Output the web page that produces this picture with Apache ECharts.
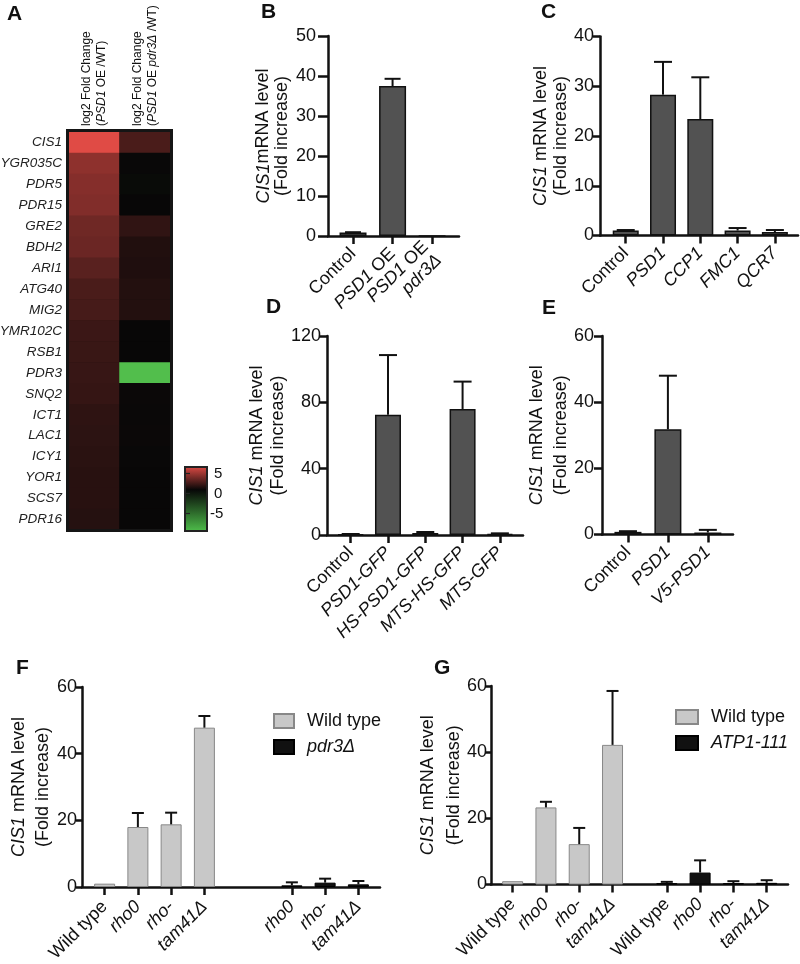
<!DOCTYPE html>
<html><head><meta charset="utf-8">
<script src="https://cdn.jsdelivr.net/npm/echarts@6/dist/echarts.min.js"></script>
<style>html,body{margin:0;padding:0;background:#fff}#c{width:800px;height:964px}</style>
</head><body><div id="c"></div>
<script>
// ---------------- data ----------------
const heatGenes = ['CIS1','YGR035C','PDR5','PDR15','GRE2','BDH2','ARI1','ATG40','MIG2','YMR102C','RSB1','PDR3','SNQ2','ICT1','LAC1','ICY1','YOR1','SCS7','PDR16'];
const heatCols = ['log2 Fold Change\n(PSD1 OE /WT)', 'log2 Fold Change\n(PSD1 OE pdr3Δ /WT)'];
const heatPsd1OE = [5.2, 3.1, 2.9, 2.8, 2.4, 2.3, 1.9, 1.55, 1.45, 1.2, 1.15, 1.1, 1.05, 0.9, 0.85, 0.8, 0.75, 0.75, 0.7];
const heatPsd1OEpdr3 = [1.55, 0.05, -0.1, 0.02, 0.95, 0.6, 0.55, 0.65, 0.65, 0.02, 0.02, -5.5, 0.1, 0.08, 0.1, 0.05, 0.03, 0.03, 0.02];
const colorbarTicks = [5, 0, -5];

const bLabels = ['Control', 'PSD1 OE', 'PSD1 OE\npdr3Δ'];
const bMean = [0.85, 37.5, 0.05];
const bErr = [0.1, 1.8, 0];

const cLabels = ['Control', 'PSD1', 'CCP1', 'FMC1', 'QCR7'];
const cMean = [1.0, 28.3, 23.4, 1.0, 0.7];
const cErr = [0.1, 6.6, 8.4, 0.5, 0.4];

const dLabels = ['Control', 'PSD1-GFP', 'HS-PSD1-GFP', 'MTS-HS-GFP', 'MTS-GFP'];
const dMean = [0.4, 72.5, 1.2, 76, 0.5];
const dErr = [0.2, 36, 0.6, 16.5, 0.5];

const eLabels = ['Control', 'PSD1', 'V5-PSD1'];
const eMean = [0.8, 31.8, 0.6];
const eErr = [0.2, 16.2, 0.8];

const fgLabels = ['Wild type', 'rho0', 'rho-', 'tam41Δ'];
const fWtMean = [1.0, 18.0, 18.8, 47.8];
const fWtErr = [0, 4.2, 3.5, 3.5];
const fPdr3Mean = [null, 0.5, 1.3, 0.8];
const fPdr3Err = [null, 0.9, 1.2, 1.0];

const gWtMean = [1.0, 23.3, 12.2, 42.2];
const gWtErr = [0, 1.7, 4.9, 16.3];
const gAtpMean = [0.4, 3.6, 0.4, 0.5];
const gAtpErr = [0.4, 3.7, 0.6, 0.8];

// ---------------- helpers ----------------
const FONT = '"Liberation Sans", Arial, Helvetica, sans-serif';
const INK = '#111';
const italicWords = new Set(['PSD1','pdr3Δ','CCP1','FMC1','QCR7','PSD1-GFP','HS-PSD1-GFP','MTS-HS-GFP','MTS-GFP','V5-PSD1','rho0','rho-','tam41Δ','ATP1-111','CIS1']);
function richLabel(text) {
  return text.split('\n').map(line => line.split(' ').map((w, k) => {
    const pre = k ? '{n| }' : '';
    let open = '', close = '';
    if (w.startsWith('(')) { open = '{n|(}'; w = w.slice(1); }
    if (w.endsWith(')')) { close = '{n|)}'; w = w.slice(0, -1); }
    if (!w) return pre + open + close;
    return pre + open + '{' + (italicWords.has(w) ? 'i' : 'n') + '|' + w + '}' + close;
  }).join('')).join('\n');
}
function richStyles(size, lh) {
  return {
    n: { fontSize: size, fontFamily: FONT, color: INK, lineHeight: lh },
    i: { fontSize: size, fontFamily: FONT, color: INK, lineHeight: lh, fontStyle: 'italic' }
  };
}

const grids = [], xAxes = [], yAxes = [], series = [];

// ---------------- panel A: heatmap ----------------
grids.push({ left: 69, top: 132, width: 101, height: 398, outerBoundsMode: 'none', containLabel: false,
  show: true, backgroundColor: '#070707', borderWidth: 0 });
xAxes.push({
  type: 'category', gridIndex: 0, position: 'top', data: heatCols,
  axisLine: { show: false }, axisTick: { show: false }, splitLine: { show: false }, splitArea: { show: false },
  axisLabel: { interval: 0, rotate: -90, margin: 6, formatter: v => richLabel(v), rich: richStyles(12, 15) }
});
yAxes.push({
  type: 'category', gridIndex: 0, data: heatGenes, inverse: true,
  axisLine: { show: false }, axisTick: { show: false }, splitLine: { show: false }, splitArea: { show: false },
  axisLabel: { interval: 0, margin: 7, fontSize: 13.5, fontStyle: 'italic', fontFamily: FONT, color: '#222' }
});
const heatData = [];
heatGenes.forEach((g, i) => {
  heatData.push([0, i, heatPsd1OE[i]]);
  heatData.push([1, i, heatPsd1OEpdr3[i]]);
});
series.push({ type: 'heatmap', xAxisIndex: 0, yAxisIndex: 0, data: heatData, emphasis: { disabled: true }, itemStyle: { borderWidth: 0 } });

// ---------------- bar panels ----------------
function addBarPanel(p) {
  const ai = xAxes.length;
  grids.push(Object.assign({ outerBoundsMode: 'none', containLabel: false }, p.grid));
  const ticks = [], labelMap = {}, errData = [];
  const nFirst = p.groups[0].mean.length;
  p.groups.forEach((grp, g) => {
    const data = [];
    grp.mean.forEach((m, i) => {
      if (m == null) return;
      const x = g * (nFirst + (p.gap || 0)) + i;
      ticks.push(x);
      labelMap[x.toFixed(3)] = richLabel(grp.labels[i]);
      data.push([x, m]);
      errData.push([x, m, grp.err[i]]);
    });
    series.push({
      type: 'bar', name: grp.name, xAxisIndex: ai, yAxisIndex: ai, data,
      barWidth: p.barWidth, barGap: '-100%',
      itemStyle: { color: grp.fill, borderColor: grp.border, borderWidth: grp.borderWidth },
      emphasis: { disabled: true }
    });
  });
  const cap = p.cap, lw = p.errWidth;
  series.push({
    type: 'custom', xAxisIndex: ai, yAxisIndex: ai, data: errData, z: 5,
    encode: { x: 0, y: 1 },
    renderItem: (params, api) => {
      const x = api.value(0), m = api.value(1), e = api.value(2);
      if (!e) return null;
      const p0 = api.coord([x, m]), p1 = api.coord([x, m + e]);
      return { type: 'group', children: [
        { type: 'line', shape: { x1: p0[0], y1: p0[1], x2: p1[0], y2: p1[1] }, style: { stroke: INK, lineWidth: lw } },
        { type: 'line', shape: { x1: p1[0] - cap, y1: p1[1], x2: p1[0] + cap, y2: p1[1] }, style: { stroke: INK, lineWidth: lw } }
      ] };
    }
  });
  xAxes.push({
    type: 'value', gridIndex: ai, min: p.xMin, max: p.xMax, splitLine: { show: false },
    axisLine: { show: true, onZero: false, lineStyle: { color: INK, width: 2.5 } },
    axisTick: { show: true, customValues: ticks, length: 8, lineStyle: { color: INK, width: 2.5 } },
    axisLabel: { customValues: ticks, rotate: 45, margin: p.xLabelMargin, fontSize: 18, hideOverlap: false,
      formatter: v => labelMap[Number(v).toFixed(3)] || '', rich: richStyles(18, 19) }
  });
  yAxes.push({
    type: 'value', gridIndex: ai, min: 0, max: p.yMax, interval: p.yInterval, splitLine: { show: false },
    axisLine: { show: true, onZero: false, lineStyle: { color: INK, width: 2.5 } },
    axisTick: { show: true, length: p.yTickLen, lineStyle: { color: INK, width: 2.5 } },
    axisLabel: { margin: p.yLabelMargin, fontSize: 18, fontFamily: FONT, color: INK },
    name: p.title, nameLocation: 'middle', nameRotate: 90, nameGap: p.nameGap,
    nameTextStyle: { rich: richStyles(18, p.titleLH) }
  });
}

const darkFill = '#525252';
const titleStd = richLabel('CIS1 mRNA level\n(Fold increase)');

addBarPanel({ grid: { left: 328, top: 36, width: 131, height: 200 }, xMin: -0.633, xMax: 2.68,
  yMax: 50, yInterval: 10, barWidth: 27, cap: 8, errWidth: 2, yTickLen: 10, yLabelMargin: 12, xLabelMargin: 15,
  title: '{i|CIS1}{n|mRNA level}\n{n|(Fold increase)}', nameGap: 36, titleLH: 19,
  groups: [{ name: 'B', labels: bLabels, mean: bMean, err: bErr, fill: darkFill, border: INK, borderWidth: 1.5 }] });

addBarPanel({ grid: { left: 600, top: 36.5, width: 198, height: 199 }, xMin: -0.69, xMax: 4.62,
  yMax: 40, yInterval: 10, barWidth: 26, cap: 9, errWidth: 2, yTickLen: 7, yLabelMargin: 6, xLabelMargin: 15,
  title: titleStd, nameGap: 28, titleLH: 20,
  groups: [{ name: 'C', labels: cLabels, mean: cMean, err: cErr, fill: darkFill, border: INK, borderWidth: 1.5 }] });

addBarPanel({ grid: { left: 327, top: 336, width: 196, height: 199 }, xMin: -0.635, xMax: 4.62,
  yMax: 120, yInterval: 40, barWidth: 26, cap: 9, errWidth: 2, yTickLen: 8, yLabelMargin: 6, xLabelMargin: 15,
  title: titleStd, nameGap: 33, titleLH: 21,
  groups: [{ name: 'D', labels: dLabels, mean: dMean, err: dErr, fill: darkFill, border: INK, borderWidth: 1.5 }] });

addBarPanel({ grid: { left: 602, top: 336, width: 131, height: 198.5 }, xMin: -0.65, xMax: 2.63,
  yMax: 60, yInterval: 20, barWidth: 27, cap: 9, errWidth: 2, yTickLen: 8, yLabelMargin: 8, xLabelMargin: 15,
  title: titleStd, nameGap: 27, titleLH: 24,
  groups: [{ name: 'E', labels: eLabels, mean: eMean, err: eErr, fill: darkFill, border: INK, borderWidth: 1.5 }] });

const lightFill = '#c8c8c8', lightBorder = '#888';
addBarPanel({ grid: { left: 82, top: 687, width: 298, height: 200 }, xMin: -0.68, xMax: 8.28, gap: 0.63,
  yMax: 60, yInterval: 20, barWidth: 21, cap: 6, errWidth: 2, yTickLen: 6, yLabelMargin: 5, xLabelMargin: 17,
  title: titleStd, nameGap: 27, titleLH: 24,
  groups: [
    { name: 'Wild type', labels: fgLabels, mean: fWtMean, err: fWtErr, fill: lightFill, border: lightBorder, borderWidth: 1 },
    { name: 'pdr3Δ', labels: fgLabels, mean: fPdr3Mean, err: fPdr3Err, fill: INK, border: '#000', borderWidth: 1 }
  ] });

addBarPanel({ grid: { left: 491, top: 686, width: 297, height: 198.5 }, xMin: -0.65, xMax: 8.27, gap: 0.63,
  yMax: 60, yInterval: 20, barWidth: 21, cap: 6, errWidth: 2, yTickLen: 6, yLabelMargin: 4, xLabelMargin: 17,
  title: titleStd, nameGap: 24, titleLH: 26,
  groups: [
    { name: 'Wild type', labels: fgLabels, mean: gWtMean, err: gWtErr, fill: lightFill, border: lightBorder, borderWidth: 1 },
    { name: 'ATP1-111', labels: fgLabels, mean: gAtpMean, err: gAtpErr, fill: INK, border: '#000', borderWidth: 1 }
  ] });

// ---------------- decorations ----------------
const graphics = [];
// heatmap frame, drawn as four dark bars
const FR = { l: 66, t: 129, r: 173, b: 532, w: 3 };
[[FR.l, FR.t, FR.r - FR.l, FR.w], [FR.l, FR.b - FR.w, FR.r - FR.l, FR.w],
 [FR.l, FR.t, FR.w, FR.b - FR.t], [FR.r - FR.w, FR.t, FR.w, FR.b - FR.t]].forEach(([x, y, w, h]) => {
  graphics.push({ type: 'rect', shape: { x, y, width: w, height: h }, style: { fill: '#151515' }, z: 10 });
});
// colorbar
const cbY = v => 493.5 - v * 4;
graphics.push({ type: 'rect', shape: { x: 185, y: 467, width: 22, height: 64 },
  style: { stroke: '#222', lineWidth: 2, fill: { type: 'linear', x: 0, y: 0, x2: 0, y2: 1, colorStops: [
    { offset: 0, color: '#e04b45' }, { offset: 0.36, color: '#070707' }, { offset: 1, color: '#4fc04b' } ] } }, z: 10 });
colorbarTicks.forEach(t => {
  graphics.push({ type: 'line', shape: { x1: 186, y1: cbY(t), x2: 190, y2: cbY(t) }, style: { stroke: '#222', lineWidth: 1.2 }, z: 11 });
  graphics.push({ type: 'text', x: t < 0 ? 210 : 214, y: cbY(t), style: { text: String(t), font: '15px ' + FONT, fill: INK, textVerticalAlign: 'middle' }, z: 11 });
});
// panel letters
[['A', 7, 4], ['B', 261, 2], ['C', 541, 2], ['D', 266, 297], ['E', 542, 298], ['F', 16, 658], ['G', 434, 658]].forEach(([t, x, y]) => {
  graphics.push({ type: 'text', x, y, style: { text: t, font: 'bold 21px ' + FONT, fill: INK, textVerticalAlign: 'top' }, z: 11 });
});

const legendBase = {
  orient: 'vertical', itemHeight: 14, itemGap: 8, icon: 'rect',
  formatter: name => richLabel(name),
  textStyle: { fontSize: 18, fontFamily: FONT, color: INK, padding: [0, 0, 0, 8], rich: richStyles(18, 18) }
};

const option = {
  animation: false,
  backgroundColor: '#fff',
  grid: grids, xAxis: xAxes, yAxis: yAxes, series,
  visualMap: { show: false, type: 'continuous', seriesIndex: 0, dimension: 2, min: -5, max: 5,
    inRange: { color: ['#52be4c', '#070707', '#e04b45'] } },
  legend: [
    Object.assign({}, legendBase, { data: ['Wild type', 'pdr3Δ'], left: 268, top: 707, itemWidth: 20 }),
    Object.assign({}, legendBase, { data: ['Wild type', 'ATP1-111'], left: 670, top: 703, itemWidth: 22 })
  ],
  graphic: graphics
};
const chart = echarts.init(document.getElementById('c'), null, { renderer: 'canvas' });
chart.setOption(option);
</script></body></html>
